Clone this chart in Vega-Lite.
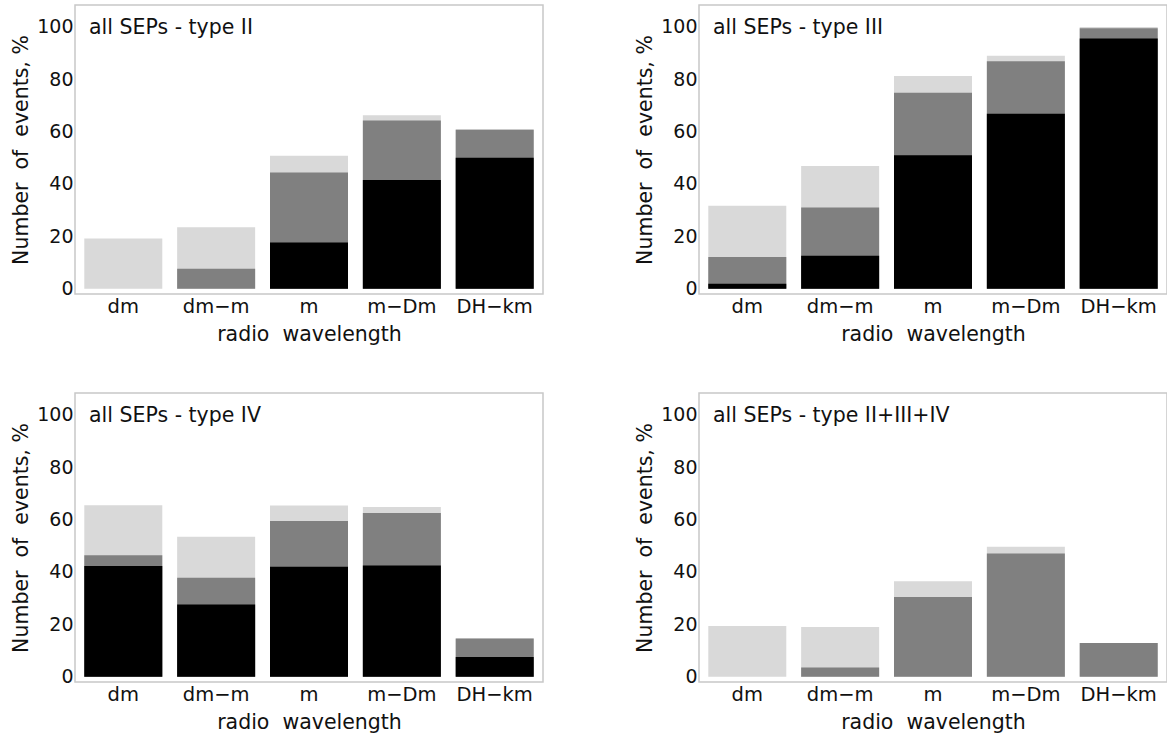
{
  "$schema": "https://vega.github.io/schema/vega-lite/v6.json",
  "background": "white",
  "padding": {"left": 10, "top": 4, "right": 0, "bottom": 0},
  "autosize": {"type": "pad"},
  "columns": 2,
  "spacing": {"row": 99, "column": 156},
  "bounds": "flush",
  "config": {
    "view": {"stroke": "#c8c8c8", "strokeWidth": 1.5},
    "font": "DejaVu Sans",
    "axis": {
      "labelFont": "DejaVu Sans", "labelFontSize": 19, "labelColor": "#111",
      "titleFont": "DejaVu Sans", "titleFontSize": 20.5, "titleFontWeight": "normal", "titleColor": "#111",
      "grid": false, "ticks": false, "domain": false
    },
    "axisX": {"labelPadding": 3, "titlePadding": 9, "labelAngle": 0, "labelFontSize": 19.5},
    "axisY": {"labelPadding": 2, "titlePadding": 5},
    "title": {"anchor": "start", "frame": "group", "orient": "top", "offset": -33, "baseline": "middle", "dx": 14, "fontSize": 20.5, "fontWeight": "normal", "font": "DejaVu Sans", "color": "#111"}
  },
  "datasets": {
    "sep": [
      {"panel": "II", "band": "dm", "all": 19.2, "gray": 0, "black": 0},
      {"panel": "II", "band": "dm−m", "all": 23.5, "gray": 7.6, "black": 0},
      {"panel": "II", "band": "m", "all": 50.8, "gray": 44.4, "black": 17.7},
      {"panel": "II", "band": "m−Dm", "all": 66.2, "gray": 64.2, "black": 41.5},
      {"panel": "II", "band": "DH−km", "all": 60.9, "gray": 60.7, "black": 50.0},
      {"panel": "III", "band": "dm", "all": 31.7, "gray": 12.1, "black": 1.9},
      {"panel": "III", "band": "dm−m", "all": 46.9, "gray": 31.0, "black": 12.6},
      {"panel": "III", "band": "m", "all": 81.2, "gray": 74.8, "black": 51.0},
      {"panel": "III", "band": "m−Dm", "all": 88.9, "gray": 86.8, "black": 66.8},
      {"panel": "III", "band": "DH−km", "all": 99.9, "gray": 99.4, "black": 95.5},
      {"panel": "IV", "band": "dm", "all": 65.5, "gray": 46.4, "black": 42.3},
      {"panel": "IV", "band": "dm−m", "all": 53.4, "gray": 37.8, "black": 27.6},
      {"panel": "IV", "band": "m", "all": 65.4, "gray": 59.4, "black": 42.0},
      {"panel": "IV", "band": "m−Dm", "all": 64.8, "gray": 62.5, "black": 42.5},
      {"panel": "IV", "band": "DH−km", "all": 14.6, "gray": 14.6, "black": 7.5},
      {"panel": "ALL", "band": "dm", "all": 19.4, "gray": 0, "black": 0},
      {"panel": "ALL", "band": "dm−m", "all": 19.0, "gray": 3.5, "black": 0},
      {"panel": "ALL", "band": "m", "all": 36.5, "gray": 30.4, "black": 0},
      {"panel": "ALL", "band": "m−Dm", "all": 49.6, "gray": 47.0, "black": 0},
      {"panel": "ALL", "band": "DH−km", "all": 12.9, "gray": 12.9, "black": 0}
    ]
  },
  "concat": [
    {
      "width": 468, "height": 289,
      "data": {"name": "sep"},
      "transform": [{"filter": "datum.panel == 'II'"}],
      "title": {"text": "all SEPs - type II"},
      "encoding": {"x": {"field": "band", "type": "nominal", "sort": ["dm", "dm−m", "m", "m−Dm", "DH−km"], "scale": {"paddingInner": 0.16, "paddingOuter": 0.1}, "axis": {"title": "radio\u00a0 wavelength"}}},
      "layer": [
        {"mark": {"type": "bar", "color": "#d9d9d9"}, "encoding": {"y": {"field": "all", "type": "quantitative", "scale": {"domain": [-2, 108.3], "nice": false}, "axis": {"title": "Number\u00a0 of\u00a0 events, %", "values": [0, 20, 40, 60, 80, 100]}}}},
        {"mark": {"type": "bar", "color": "#808080"}, "encoding": {"y": {"field": "gray", "type": "quantitative", "axis": {"title": "Number\u00a0 of\u00a0 events, %"}}}},
        {"mark": {"type": "bar", "color": "#000000"}, "encoding": {"y": {"field": "black", "type": "quantitative", "axis": {"title": "Number\u00a0 of\u00a0 events, %"}}}}
      ]
    },
    {
      "width": 468, "height": 289,
      "data": {"name": "sep"},
      "transform": [{"filter": "datum.panel == 'III'"}],
      "title": {"text": "all SEPs - type III"},
      "encoding": {"x": {"field": "band", "type": "nominal", "sort": ["dm", "dm−m", "m", "m−Dm", "DH−km"], "scale": {"paddingInner": 0.16, "paddingOuter": 0.1}, "axis": {"title": "radio\u00a0 wavelength"}}},
      "layer": [
        {"mark": {"type": "bar", "color": "#d9d9d9"}, "encoding": {"y": {"field": "all", "type": "quantitative", "scale": {"domain": [-2, 108.3], "nice": false}, "axis": {"title": "Number\u00a0 of\u00a0 events, %", "values": [0, 20, 40, 60, 80, 100]}}}},
        {"mark": {"type": "bar", "color": "#808080"}, "encoding": {"y": {"field": "gray", "type": "quantitative", "axis": {"title": "Number\u00a0 of\u00a0 events, %"}}}},
        {"mark": {"type": "bar", "color": "#000000"}, "encoding": {"y": {"field": "black", "type": "quantitative", "axis": {"title": "Number\u00a0 of\u00a0 events, %"}}}}
      ]
    },
    {
      "width": 468, "height": 289,
      "data": {"name": "sep"},
      "transform": [{"filter": "datum.panel == 'IV'"}],
      "title": {"text": "all SEPs - type IV"},
      "encoding": {"x": {"field": "band", "type": "nominal", "sort": ["dm", "dm−m", "m", "m−Dm", "DH−km"], "scale": {"paddingInner": 0.16, "paddingOuter": 0.1}, "axis": {"title": "radio\u00a0 wavelength"}}},
      "layer": [
        {"mark": {"type": "bar", "color": "#d9d9d9"}, "encoding": {"y": {"field": "all", "type": "quantitative", "scale": {"domain": [-2, 108.3], "nice": false}, "axis": {"title": "Number\u00a0 of\u00a0 events, %", "values": [0, 20, 40, 60, 80, 100]}}}},
        {"mark": {"type": "bar", "color": "#808080"}, "encoding": {"y": {"field": "gray", "type": "quantitative", "axis": {"title": "Number\u00a0 of\u00a0 events, %"}}}},
        {"mark": {"type": "bar", "color": "#000000"}, "encoding": {"y": {"field": "black", "type": "quantitative", "axis": {"title": "Number\u00a0 of\u00a0 events, %"}}}}
      ]
    },
    {
      "width": 468, "height": 289,
      "data": {"name": "sep"},
      "transform": [{"filter": "datum.panel == 'ALL'"}],
      "title": {"text": "all SEPs - type II+III+IV"},
      "encoding": {"x": {"field": "band", "type": "nominal", "sort": ["dm", "dm−m", "m", "m−Dm", "DH−km"], "scale": {"paddingInner": 0.16, "paddingOuter": 0.1}, "axis": {"title": "radio\u00a0 wavelength"}}},
      "layer": [
        {"mark": {"type": "bar", "color": "#d9d9d9"}, "encoding": {"y": {"field": "all", "type": "quantitative", "scale": {"domain": [-2, 108.3], "nice": false}, "axis": {"title": "Number\u00a0 of\u00a0 events, %", "values": [0, 20, 40, 60, 80, 100]}}}},
        {"mark": {"type": "bar", "color": "#808080"}, "encoding": {"y": {"field": "gray", "type": "quantitative", "axis": {"title": "Number\u00a0 of\u00a0 events, %"}}}},
        {"mark": {"type": "bar", "color": "#000000"}, "encoding": {"y": {"field": "black", "type": "quantitative", "axis": {"title": "Number\u00a0 of\u00a0 events, %"}}}}
      ]
    }
  ]
}
